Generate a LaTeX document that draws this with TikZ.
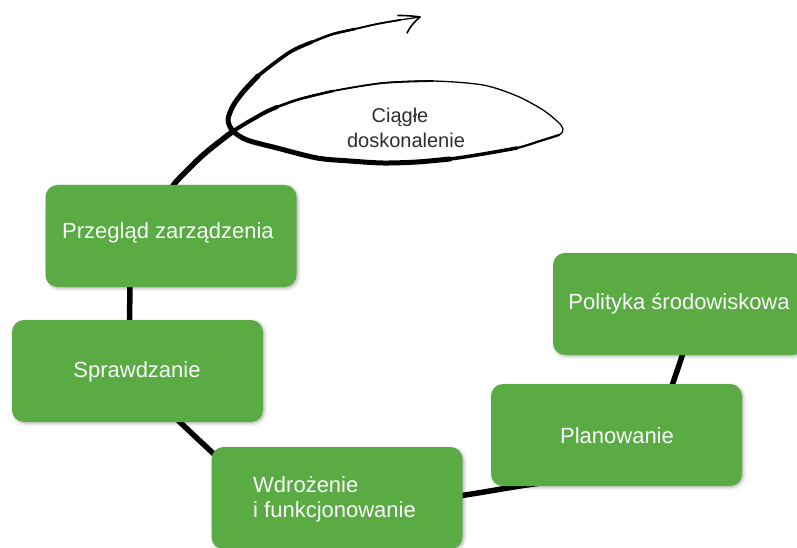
\documentclass[tikz,border=0pt]{standalone}
\usepackage{fontspec}
\setmainfont{Liberation Sans}
\usetikzlibrary{calc,shadows.blur}
\definecolor{boxgreen}{RGB}{90,171,68}
\definecolor{boxtext}{RGB}{250,250,250}
\definecolor{looptext}{RGB}{45,45,45}
\pgfdeclarelayer{bg}
\pgfsetlayers{bg,main}
\begin{document}
\begin{tikzpicture}[x=1pt,y=-1pt,
  box/.style={draw=none, fill=boxgreen, rounded corners=12pt, minimum width=251pt,
    minimum height=102pt, inner sep=0pt,
    blur shadow={shadow xshift=1.5pt, shadow yshift=-1.5pt, shadow blur radius=3pt, shadow opacity=30}},
  btext/.style={text=boxtext, font=\fontsize{22}{25}\selectfont, inner sep=0pt, anchor=base},
  ltext/.style={text=looptext, font=\fontsize{20}{25}\selectfont, inner sep=0pt, anchor=base},
  cyc/.style={line width=5.5pt, line cap=round},
  lp/.style={line cap=round, line join=round}]
\useasboundingbox (0,0) rectangle (797,548);

% boxes
\node[box] (prz) at (171,236) {};
\node[box] (spr) at (137.5,371) {};
\node[box] (wdr) at (337,498) {};
\node[box] (plan) at (616.5,435) {};
\node[box] (pol) at (678.5,304) {};

% texts
\node[btext] (prz-t) at (168,238) {Przegląd zarządzenia};
\node[btext] (spr-t) at (137,377) {Sprawdzanie};
\node[btext, anchor=base west] (wdr-t1) at (253,492) {Wdrożenie};
\node[btext, anchor=base west] (wdr-t2) at (253,517) {i funkcjonowanie};
\node[btext] (plan-t) at (617,443) {Planowanie};
\node[btext] (pol-t) at (679,309) {Polityka środowiskowa};
\node[ltext] (cd-t1) at (400,123) {Ciągłe};
\node[ltext] (cd-t2) at (406,148) {doskonalenie};

\coordinate (tip) at (420,17);

\begin{pgfonlayer}{bg}
% cycle connectors
\draw[cyc] ([shift={(5.5,-7)}]pol.south) .. controls +(-2,10) and +(3,-10) .. ([shift={(53.5,8)}]plan.north);
\draw[cyc] ([shift={(49,-3)}]plan.south west) .. controls +(-25,3) and +(25,-3) .. ([shift={(-12,-1)}]wdr.east);
\draw[cyc] ([shift={(10,14)}]wdr.north west) .. controls +(-12,-11) and +(10,10) .. ([shift={(160,-8)}]spr.south west);
\draw[cyc] ([shift={(-8,8)}]spr.north) -- ([shift={(-41,-8)}]prz.south);

% improvement loop
\draw[lp, line width=1.3pt] plot[smooth] coordinates {([shift={(-2,10)}]prz.north) (175,183) (203,155) (232,132) (262,114) (300,99) (333,91) (383,83) (433,81) (483,85) (517,96) (543,110) (558,122) (563,129) (559,135) (540,141) (517,148) (483,154) (450,159) (417,162) (383,163) (350,161) (317,158) (277,148) (247,140) (233,131) (228,120) (233,106) (243,92) (258,76) (290,52) (312,42) (333,34) (355,29) (377,24) (400,20) (tip)};
\draw[lp, line width=5.5pt] plot[smooth] coordinates {([shift={(-2,10)}]prz.north) (175,183) (203,155) (232,132)};
\draw[lp, line width=4pt] plot[smooth] coordinates {(203,155) (232,132) (262,114) (277,107)};
\draw[lp, line width=2.6pt] plot[smooth] coordinates {(262,114) (277,107) (300,99) (333,91)};
\draw[lp, line width=1.8pt] plot[smooth] coordinates {(300,99) (333,91) (383,83) (433,81)};
\draw[lp, line width=2.2pt] plot[smooth] coordinates {(559,135) (540,141) (517,148) (483,154)};
\draw[lp, line width=3.5pt] plot[smooth] coordinates {(517,148) (483,154) (450,159) (417,162)};
\draw[lp, line width=5pt] plot[smooth] coordinates {(450,159) (417,162) (383,163) (350,161) (317,158) (277,148) (247,140) (233,131) (228,120) (233,106) (243,92) (258,76)};
\draw[lp, line width=3.6pt] plot[smooth] coordinates {(243,92) (258,76) (290,52) (312,42)};
\draw[lp, line width=2.6pt] plot[smooth] coordinates {(290,52) (312,42) (333,34) (355,29)};
\draw[lp, line width=1.8pt] plot[smooth] coordinates {(333,34) (355,29) (377,24) (400,20)};
\draw[lp, line width=1.6pt] (398,15.5) .. controls (406,15.5) and (414,16) .. (tip) .. controls (414,22) and (410,27) .. (407,33);
\end{pgfonlayer}
\end{tikzpicture}
\end{document}
